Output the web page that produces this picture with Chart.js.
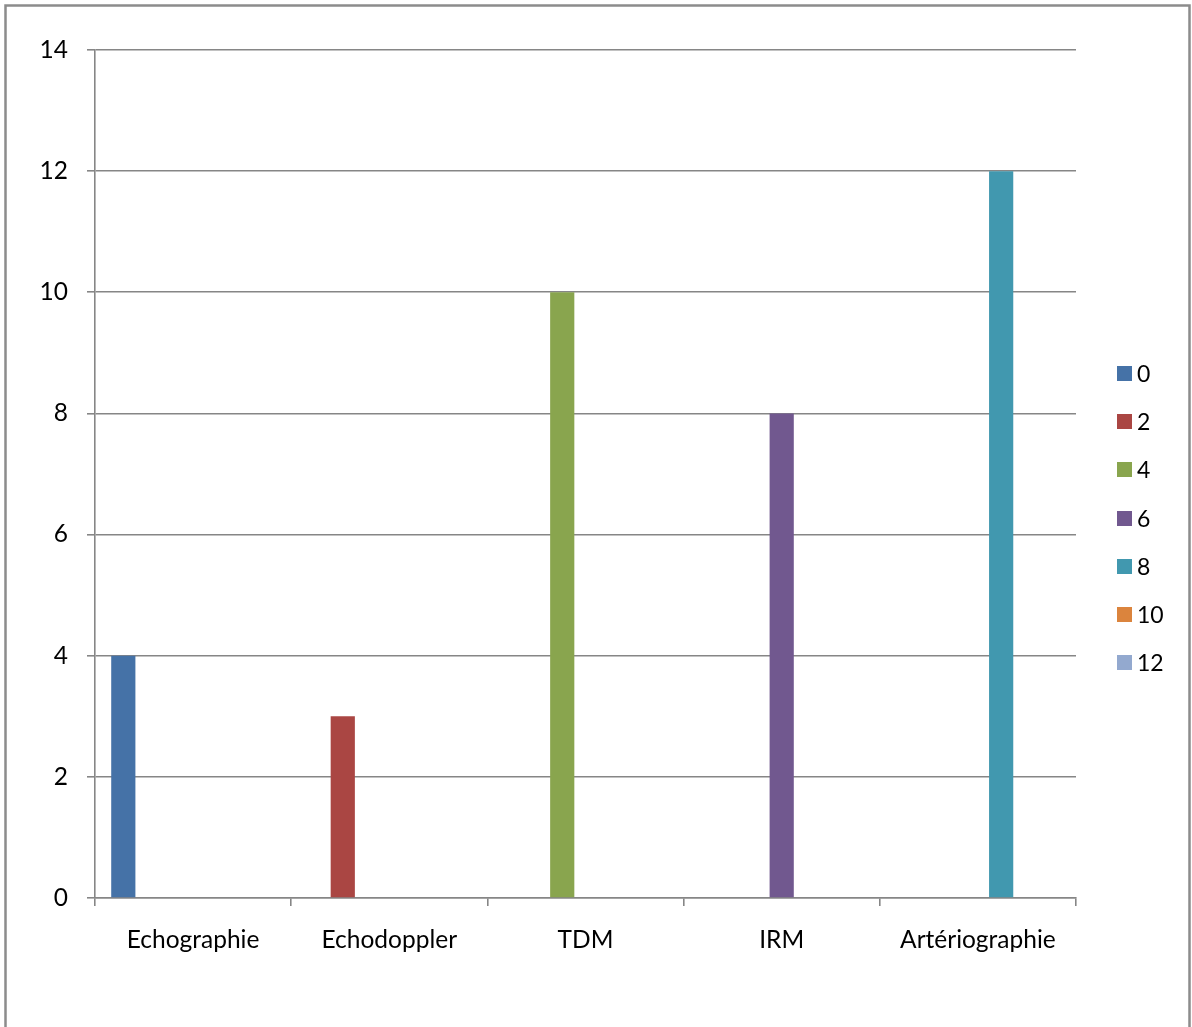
<!DOCTYPE html>
<html>
<head>
<meta charset="utf-8">
<script src="https://cdn.jsdelivr.net/npm/chart.js@4.4.1/dist/chart.umd.min.js"></script>
<style>
  html, body { margin: 0; padding: 0; background: #ffffff; }
  #wrap { width: 1192px; height: 1027px; position: relative; }
  canvas { display: block; }
</style>
</head>
<body>
<div id="wrap"><canvas id="c" width="1192" height="1027"></canvas></div>
<script>
// Examination types on the x axis
const categories = ['Echographie', 'Echodoppler', 'TDM', 'IRM', 'Artériographie'];

// Series names shown in the legend
const seriesNames = ['0', '2', '4', '6', '8', '10', '12'];

// Values per series, one entry per examination (null = no bar)
const serie0  = [4, null, null, null, null];
const serie2  = [null, 3, null, null, null];
const serie4  = [null, null, 10, null, null];
const serie6  = [null, null, null, 8, null];
const serie8  = [null, null, null, null, 12];
const serie10 = [null, null, null, null, null];
const serie12 = [null, null, null, null, null];

// Y axis range
const yMin = 0, yMax = 14, yStep = 2;

const seriesValues = [serie0, serie2, serie4, serie6, serie8, serie10, serie12];
const seriesColors = ['#4572A7', '#AA4643', '#89A54E', '#71588F', '#4198AF', '#DB843D', '#93A9CF'];

const FONT = 'Lato, "Open Sans", "Liberation Sans", sans-serif';
const GRID = '#868686';

// White page with the outer frame
const framePlugin = {
  id: 'frame',
  beforeDraw(chart) {
    const ctx = chart.ctx;
    ctx.save();
    ctx.fillStyle = '#ffffff';
    ctx.fillRect(0, 0, chart.width, chart.height);
    ctx.strokeStyle = '#8c8c8c';
    ctx.lineWidth = 2.5;
    ctx.beginPath();
    ctx.moveTo(5.5, chart.height + 5);
    ctx.lineTo(5.5, 5.5);
    ctx.lineTo(1189.5, 5.5);
    ctx.lineTo(1189.5, chart.height + 5);
    ctx.stroke();
    ctx.restore();
  }
};

// Vertical legend on the right side, built from the datasets
const sideLegend = {
  id: 'sideLegend',
  afterDraw(chart) {
    const ctx = chart.ctx;
    const sets = chart.data.datasets;
    const x0 = 1117, size = 15, gap = 48.2, firstCenter = 373.5;
    ctx.save();
    ctx.font = '23px ' + FONT;
    ctx.textBaseline = 'middle';
    ctx.textAlign = 'left';
    sets.forEach((ds, i) => {
      const cy = firstCenter + i * gap;
      ctx.fillStyle = ds.backgroundColor;
      ctx.fillRect(x0, Math.round(cy - size / 2), size, size);
      ctx.fillStyle = '#000000';
      ctx.fillText(ds.label, x0 + 20, cy + 1);
    });
    ctx.restore();
  }
};

const datasets = seriesNames.map((name, i) => ({
  label: name,
  data: seriesValues[i],
  backgroundColor: seriesColors[i],
  borderWidth: 0,
  categoryPercentage: 0.83,
  barPercentage: 1.04
}));

new Chart(document.getElementById('c'), {
  type: 'bar',
  data: { labels: categories, datasets },
  options: {
    responsive: false,
    animation: false,
    layout: { padding: { top: 50, right: 116, left: 0, bottom: 0 } },
    plugins: {
      legend: { display: false },
      tooltip: { enabled: false }
    },
    scales: {
      x: {
        grid: {
          display: true,
          drawOnChartArea: false,
          drawTicks: true,
          tickLength: 8,
          color: GRID,
          lineWidth: 1.6,
          offset: true
        },
        border: { display: true, color: GRID, width: 1.6 },
        ticks: {
          color: '#000000',
          font: { family: FONT, size: 24.5 },
          padding: 19,
          maxRotation: 0,
          autoSkip: false
        },
        afterFit(scale) { scale.height = 1027 - 898; }
      },
      y: {
        min: yMin,
        max: yMax,
        grid: {
          color: GRID,
          lineWidth: 1.6,
          drawTicks: true,
          tickLength: 8
        },
        border: { display: true, color: GRID, width: 1.6 },
        ticks: {
          stepSize: yStep,
          color: '#000000',
          font: { family: FONT, size: 24.5 },
          padding: 19
        },
        afterFit(scale) { scale.width = 95; }
      }
    }
  },
  plugins: [framePlugin, sideLegend]
});
</script>
</body>
</html>
